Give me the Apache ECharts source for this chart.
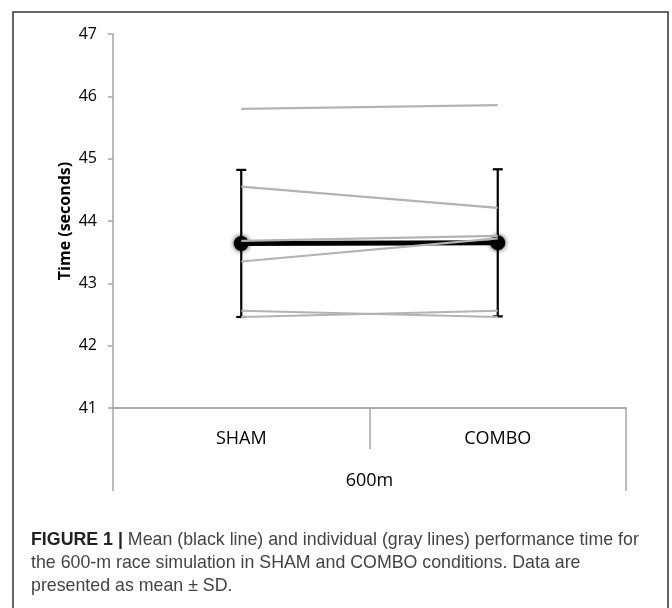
<!DOCTYPE html>
<html>
<head>
<meta charset="utf-8">
<script src="https://cdn.jsdelivr.net/npm/echarts@6/dist/echarts.min.js"></script>
<style>
html,body{margin:0;padding:0;background:#fff;}
#chart{width:672px;height:608px;}
</style>
</head>
<body>
<div id="chart"></div>
<script>
const categories = ['SHAM', 'COMBO'];
const groupLabel = ['600m'];
const meanValues = [43.64, 43.65];
const sdValues = [1.18, 1.18];
const participant1 = [45.80, 45.86];
const participant2 = [44.55, 44.21];
const participant3 = [43.68, 43.76];
const participant4 = [43.35, 43.72];
const participant5 = [42.56, 42.46];
const participant6 = [42.46, 42.56];
const individuals = [participant1, participant2, participant3, participant4, participant5, participant6];
const yMin = 41, yMax = 47, yStep = 1;
const captionLines = [
  ['FIGURE 1 | ', 'Mean (black line) and individual (gray lines) performance time for'],
  ['', 'the 600-m race simulation in SHAM and COMBO conditions. Data are'],
  ['', 'presented as mean \u00b1 SD.']
];

const chart = echarts.init(document.getElementById('chart'), null, {renderer: 'canvas'});
const axisGray = '#a6a6a6';
const axisFont = 'Open Sans';

const series = [];
// error bars
series.push({
  type: 'custom',
  name: 'SD',
  z: 3,
  data: categories.map((c, i) => [i, meanValues[i] - sdValues[i], meanValues[i] + sdValues[i]]),
  renderItem: function (params, api) {
    const x = api.value(0);
    const lo = api.coord([x, api.value(1)]);
    const hi = api.coord([x, api.value(2)]);
    const cap = 5;
    const st = {stroke: '#000', lineWidth: 2.2};
    return {
      type: 'group',
      children: [
        {type: 'line', shape: {x1: lo[0], y1: lo[1], x2: hi[0], y2: hi[1]}, style: st},
        {type: 'line', shape: {x1: hi[0] - cap, y1: hi[1], x2: hi[0] + cap, y2: hi[1]}, style: st},
        {type: 'line', shape: {x1: lo[0] - cap, y1: lo[1], x2: lo[0] + cap, y2: lo[1]}, style: st}
      ]
    };
  }
});
// mean line
series.push({
  type: 'line',
  name: 'Mean',
  z: 4,
  data: meanValues,
  symbol: 'circle',
  symbolSize: 15,
  lineStyle: {color: '#000', width: 5},
  itemStyle: {color: '#000', shadowBlur: 5, shadowColor: 'rgba(0,0,0,0.8)'},
  animation: false
});
// individuals
individuals.forEach((p, k) => {
  series.push({
    type: 'line',
    name: 'Participant ' + (k + 1),
    z: 5,
    data: p,
    symbol: 'none',
    lineStyle: {color: '#b3b3b3', width: 2.2},
    animation: false
  });
});

const richCaption = {
  b: {fontFamily: 'Liberation Sans', fontWeight: 'bold', fontSize: 17.8, fill: '#222'},
  n: {fontFamily: 'Liberation Sans', fontSize: 17.8, fill: '#444'}
};

const graphics = [
  {type: 'rect', shape: {x: 13, y: 12, width: 655, height: 620}, style: {fill: 'none', stroke: '#333', lineWidth: 1.5}, silent: true, z: 0}
];
captionLines.forEach((ln, i) => {
  graphics.push({
    type: 'text',
    left: 31,
    top: 531 + i * 23,
    style: {
      text: (ln[0] ? '{b|' + ln[0] + '}' : '') + '{n|' + ln[1] + '}',
      rich: richCaption,
      font: '17.8px Liberation Sans',
      fill: '#444'
    },
    silent: true
  });
});

chart.setOption({
  animation: false,
  grid: {left: 113, right: 46, top: 34, bottom: 200, containLabel: false},
  xAxis: [
    {
      type: 'category',
      data: categories,
      position: 'bottom',
      boundaryGap: true,
      axisLine: {lineStyle: {color: axisGray, width: 1.5}},
      axisTick: {show: true, inside: false, length: 41, alignWithLabel: false, lineStyle: {color: axisGray, width: 1.5}},
      axisLabel: {margin: 22, fontFamily: axisFont, fontSize: 18, color: '#000'}
    },
    {
      type: 'category',
      data: groupLabel,
      position: 'bottom',
      boundaryGap: true,
      axisLine: {lineStyle: {color: axisGray, width: 1.5}},
      axisTick: {show: true, length: 83, lineStyle: {color: axisGray, width: 1.5}},
      axisLabel: {margin: 64, fontFamily: axisFont, fontSize: 18, color: '#000'}
    }
  ],
  yAxis: {
    type: 'value',
    min: yMin,
    max: yMax,
    interval: yStep,
    name: 'Time (seconds)',
    nameLocation: 'middle',
    nameGap: 40,
    nameMoveOverlap: false,
    nameTextStyle: {fontFamily: axisFont, fontWeight: 'bold', fontSize: 16, color: '#000'},
    splitLine: {show: false},
    axisLine: {show: true, lineStyle: {color: axisGray, width: 1.5}},
    axisTick: {show: true, length: 5, lineStyle: {color: axisGray, width: 1.5}},
    axisLabel: {margin: 16, fontFamily: axisFont, fontSize: 16, color: '#000'}
  },
  series: series,
  graphic: graphics
});
</script>
</body>
</html>
